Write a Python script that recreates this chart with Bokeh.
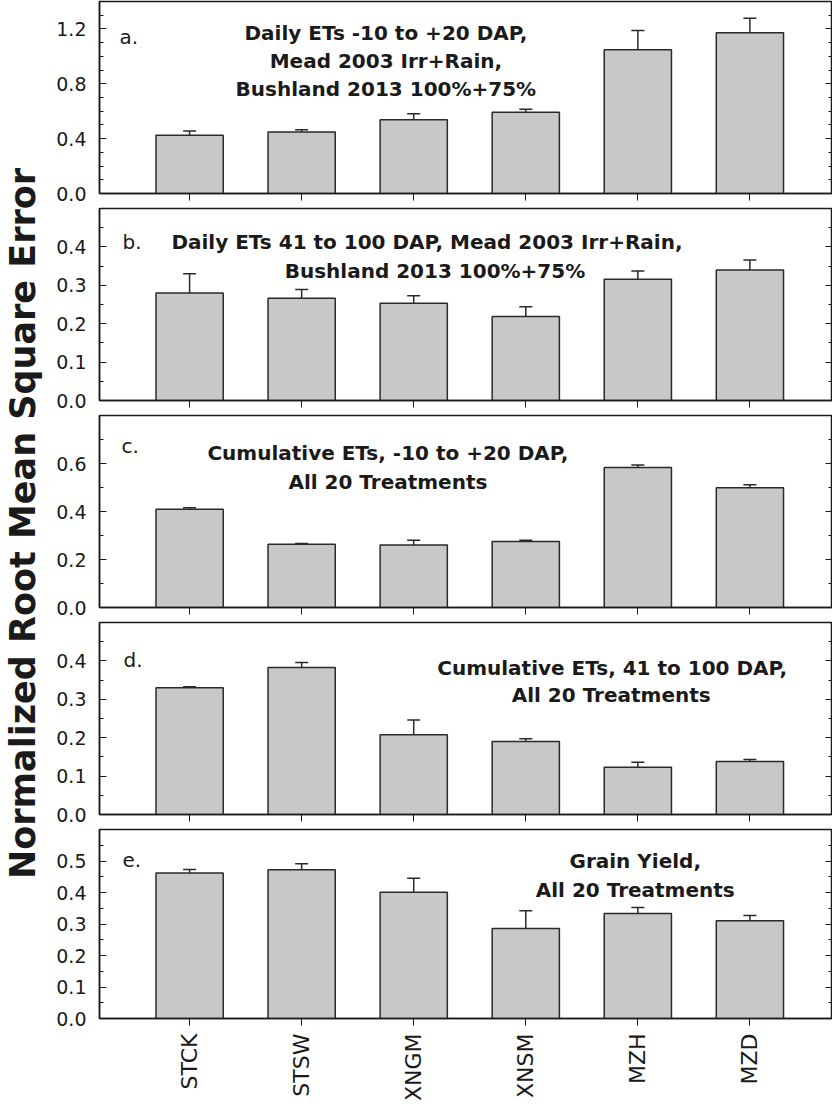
from math import pi

from bokeh.plotting import figure
from bokeh.models import (ColumnDataSource, Range1d, FixedTicker,
                          LinearAxis, Whisker, TeeHead, PrintfTickFormatter)
from bokeh.layouts import row, column
from bokeh.core.properties import value
from bokeh.embed import file_html
from bokeh.resources import INLINE

# ---- data ----
categories = ["STCK", "STSW", "XNGM", "XNSM", "MZH", "MZD"]
positions = [1, 2, 3, 4, 5, 6]

nrmse_a = [0.425, 0.449, 0.538, 0.592, 1.049, 1.172]
err_a = [0.030, 0.015, 0.044, 0.022, 0.139, 0.106]

nrmse_b = [0.280, 0.266, 0.253, 0.219, 0.316, 0.340]
err_b = [0.050, 0.023, 0.020, 0.025, 0.021, 0.026]

nrmse_c = [0.409, 0.264, 0.260, 0.275, 0.583, 0.499]
err_c = [0.007, 0.003, 0.020, 0.005, 0.011, 0.012]

nrmse_d = [0.330, 0.383, 0.208, 0.190, 0.123, 0.138]
err_d = [0.003, 0.013, 0.038, 0.007, 0.013, 0.005]

nrmse_e = [0.462, 0.472, 0.401, 0.286, 0.333, 0.310]
err_e = [0.011, 0.019, 0.044, 0.056, 0.019, 0.017]

ymax = [1.4, 0.5, 0.8, 0.5, 0.6]
major_a = [0.0, 0.4, 0.8, 1.2]
minor_a = [0.1, 0.2, 0.3, 0.5, 0.6, 0.7, 0.9, 1.0, 1.1, 1.3]
major_b = [0.0, 0.1, 0.2, 0.3, 0.4]
minor_b = [0.05, 0.15, 0.25, 0.35, 0.45]
major_c = [0.0, 0.2, 0.4, 0.6]
minor_c = [0.1, 0.3, 0.5, 0.7]
major_d = major_b
minor_d = minor_b
major_e = [0.0, 0.1, 0.2, 0.3, 0.4, 0.5]
minor_e = [0.05, 0.15, 0.25, 0.35, 0.45, 0.55]

letters = ["a.", "b.", "c.", "d.", "e."]
titles_a = ["Daily ETs -10 to +20 DAP,", "Mead 2003 Irr+Rain,",
            "Bushland 2013 100%+75%"]
titles_b = ["Daily ETs 41 to 100 DAP, Mead 2003 Irr+Rain,",
            "Bushland 2013 100%+75%"]
titles_c = ["Cumulative ETs, -10 to +20 DAP,", "All 20 Treatments"]
titles_d = ["Cumulative ETs, 41 to 100 DAP,", "All 20 Treatments"]
titles_e = ["Grain Yield,", "All 20 Treatments"]
y_title = "Normalized Root Mean Square Error"

# ---- layout / style ----
X0, X1 = 0.196, 6.737
FRAME_W, FRAME_H = 732, 192
LEFT_W = 51
BORDER_L = 48
PXU = FRAME_W / (X1 - X0)
INK = "#1a1a1a"

# annotation placement, pixels relative to the frame (x from page left)
letter_pos = [(127, 35), (130, 33), (129, 30), (131, 37), (130, 31)]
title_pos = [
    [(393, 31), (393, 59), (393, 87)],
    [(434, 33), (442, 62)],
    [(395, 37), (395, 66)],
    [(619, 45), (618, 72)],
    [(642, 32), (642, 61)],
]


def px_x(px):
    return X0 + (px - 107) / PXU


def px_y(dy, top):
    return top * (1 - dy / FRAME_H)


def hide_labels(axis):
    axis.major_label_text_font_size = "0px"
    axis.major_label_text_color = None
    axis.major_label_standoff = 0


def make_panel(i, vals, errs, major, minor, lines, last=False):
    top = ymax[i]
    bottom_border = 83 if last else 14
    p = figure(width=BORDER_L + FRAME_W + 1,
               height=1 + FRAME_H + bottom_border,
               x_range=Range1d(X0, X1), y_range=Range1d(0, top),
               output_backend="svg", toolbar_location=None,
               min_border_left=BORDER_L, min_border_right=0,
               min_border_top=1, min_border_bottom=bottom_border)
    p.grid.visible = False
    p.outline_line_color = INK
    p.outline_line_width = 1.5
    p.background_fill_color = "white"
    p.border_fill_color = "white"

    src = ColumnDataSource(dict(
        x=positions, val=vals,
        upper=[v + e for v, e in zip(vals, errs)]))

    p.vbar(x="x", top="val", width=0.6, source=src,
           fill_color="#c8c8c8", line_color="#2a2a2a", line_width=1.5)

    p.add_layout(Whisker(source=src, base="x", upper="upper", lower="val",
                         dimension="height", line_color="#2a2a2a",
                         line_width=1.5,
                         upper_head=TeeHead(size=13, line_color="#2a2a2a",
                                            line_width=1.5),
                         lower_head=None))

    # left axis
    yax = p.yaxis[0]
    yax.ticker = FixedTicker(ticks=major, minor_ticks=minor)
    yax.formatter = PrintfTickFormatter(format="%.1f")
    yax.major_tick_in = 7
    yax.major_tick_out = 0
    yax.minor_tick_in = 4
    yax.minor_tick_out = 0
    yax.axis_line_color = INK
    yax.axis_line_width = 1.5
    yax.major_tick_line_color = INK
    yax.minor_tick_line_color = INK
    yax.major_label_standoff = 13
    yax.major_label_text_font = "DejaVu Sans"
    yax.major_label_text_font_size = "19px"
    yax.major_label_text_color = INK

    # right axis, ticks only
    rax = LinearAxis(ticker=FixedTicker(ticks=major, minor_ticks=minor),
                     axis_line_color=None,
                     major_tick_in=7, major_tick_out=0,
                     minor_tick_in=4, minor_tick_out=0,
                     major_tick_line_color=INK, minor_tick_line_color=INK)
    hide_labels(rax)
    p.add_layout(rax, "right")

    # bottom axis
    xax = p.xaxis[0]
    xax.ticker = FixedTicker(ticks=positions, minor_ticks=[])
    xax.major_label_overrides = {k: c for k, c in zip(positions, categories)}
    xax.major_tick_in = 0
    xax.major_tick_out = 7
    xax.minor_tick_in = 0
    xax.minor_tick_out = 0
    xax.axis_line_color = INK
    xax.axis_line_width = 1.5
    xax.major_tick_line_color = INK
    if last:
        xax.major_label_orientation = pi / 2
        xax.major_label_standoff = 8
        xax.major_label_text_font = "DejaVu Sans"
        xax.major_label_text_font_size = "22px"
        xax.major_label_text_color = INK
    else:
        hide_labels(xax)

    # panel letter
    lx, ldy = letter_pos[i]
    p.text(x=[px_x(lx)], y=[px_y(ldy, top)], text=[letters[i]],
           text_font=value("DejaVu Sans"), text_font_size="20px",
           text_color=INK, text_align="left", text_baseline="alphabetic")

    # panel title
    tx = [px_x(x) for x, _ in title_pos[i]]
    ty = [px_y(dy, top) for _, dy in title_pos[i]]
    p.text(x=tx, y=ty, text=lines,
           text_font=value("DejaVu Sans"), text_font_style="bold",
           text_font_size="20px", text_color=INK,
           text_align="center", text_baseline="alphabetic")
    return p


panels = [
    make_panel(0, nrmse_a, err_a, major_a, minor_a, titles_a),
    make_panel(1, nrmse_b, err_b, major_b, minor_b, titles_b),
    make_panel(2, nrmse_c, err_c, major_c, minor_c, titles_c),
    make_panel(3, nrmse_d, err_d, major_d, minor_d, titles_d),
    make_panel(4, nrmse_e, err_e, major_e, minor_e, titles_e, last=True),
]

total_h = sum(p.height for p in panels)

# shared y-axis title in a narrow blank figure on the left
lab = figure(width=LEFT_W, height=total_h,
             x_range=Range1d(0, LEFT_W), y_range=Range1d(0, total_h),
             output_backend="svg", toolbar_location=None,
             x_axis_location=None, y_axis_location=None,
             min_border=0, outline_line_color=None)
lab.grid.visible = False
lab.text(x=[22], y=[total_h - 523], text=[y_title], angle=pi / 2,
         text_font=value("DejaVu Sans"), text_font_style="bold",
         text_font_size="35px", text_color=INK,
         text_align="center", text_baseline="middle")

page = row(lab, column(*panels))

open("out.html", "w").write(file_html(page, INLINE))
